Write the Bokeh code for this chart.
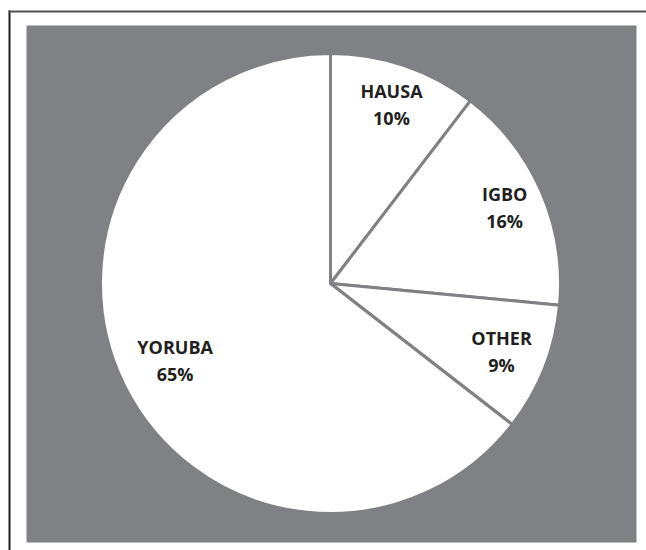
import numpy as np
from bokeh.plotting import figure
from bokeh.models import Range1d, ColumnDataSource
from bokeh.core.properties import value
from bokeh.embed import file_html
from bokeh.resources import INLINE

categories = ["HAUSA", "IGBO", "OTHER", "YORUBA"]
percents = [10.4, 16.1, 9.0, 64.5]
pct_labels = ["10%", "16%", "9%", "65%"]

# ---- styling / layout (canvas pixels) ----
W, H = 646, 550
CX, CY = 330, 283          # pie centre on the canvas
RADIUS = 230
BG_GRAY = "#808185"
EDGE_GRAY = "#808184"
TEXT_COLOR = "#231f20"
label_radius = [190, 190, 184, 173]


def dx(px):
    return px - CX


def dy(py):
    return CY - py


vals = np.array(percents, dtype=float)
fracs = vals / vals.sum()
cum = np.concatenate([[0], np.cumsum(fracs)])
start = np.pi / 2 - cum[:-1] * 2 * np.pi
end = np.pi / 2 - cum[1:] * 2 * np.pi
mid = (start + end) / 2
lr = np.array(label_radius, dtype=float)

src = ColumnDataSource(dict(
    cat=categories, pct=pct_labels, start=start, end=end,
    lx=lr * np.cos(mid), ly=lr * np.sin(mid),
))

p = figure(
    width=W, height=H,
    x_range=Range1d(-CX, W - CX), y_range=Range1d(-(H - CY), CY),
    x_axis_type=None, y_axis_type=None,
    output_backend="svg", toolbar_location=None,
    min_border=0, min_border_left=0, min_border_right=0,
    min_border_top=0, min_border_bottom=0,
)
p.background_fill_color = "white"
p.border_fill_color = "white"
p.outline_line_color = None
p.grid.visible = False

# outer frame lines (left and top) and the gray chart area
p.quad(left=[dx(8)], right=[dx(10)], top=[dy(10)], bottom=[dy(H)],
       fill_color="#1e1e1e", line_color=None)
p.quad(left=[dx(8)], right=[dx(W)], top=[dy(10)], bottom=[dy(12)],
       fill_color="#505050", line_color=None)
p.quad(left=[dx(26)], right=[dx(636)], top=[dy(25)], bottom=[dy(542)],
       fill_color=BG_GRAY, line_color=None)

p.wedge(x=0, y=0, radius=RADIUS, start_angle="start", end_angle="end",
        direction="clock", source=src, fill_color="white",
        line_color=EDGE_GRAY, line_width=3)

p.text(x="lx", y="ly", text="cat", source=src, text_align="center",
       text_baseline="middle", y_offset=-13, text_font=value("Open Sans"),
       text_font_style="bold", text_font_size="18px", text_color=TEXT_COLOR)
p.text(x="lx", y="ly", text="pct", source=src, text_align="center",
       text_baseline="middle", y_offset=14, text_font=value("Open Sans"),
       text_font_style="bold", text_font_size="18px", text_color=TEXT_COLOR)

open("out.html", "w").write(file_html(p, INLINE))
